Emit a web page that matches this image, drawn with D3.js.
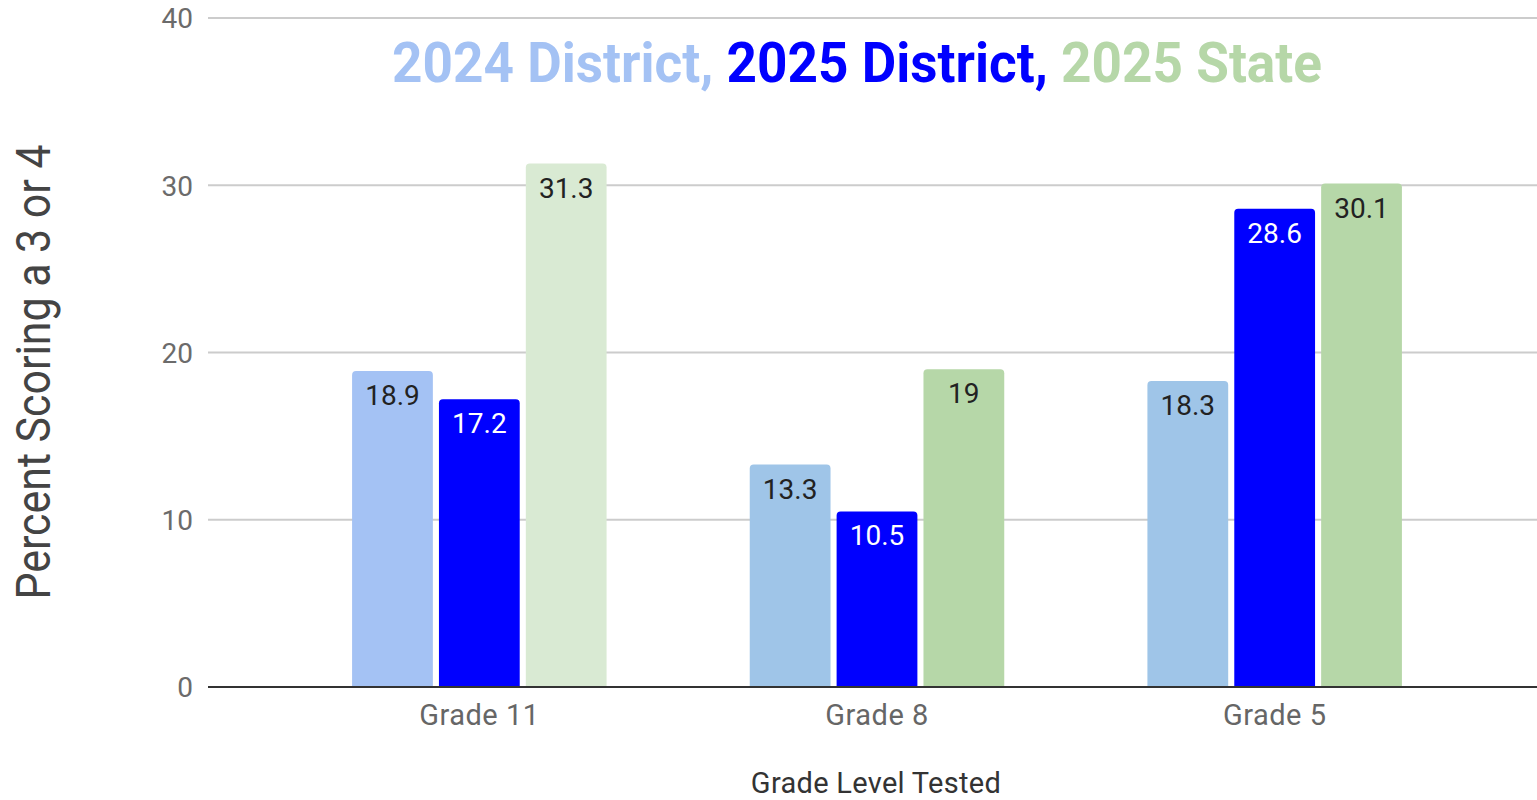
<!DOCTYPE html>
<html><head><meta charset="utf-8">
<script src="https://cdn.jsdelivr.net/npm/d3@7"></script>
<style>
html,body{margin:0;padding:0;background:#fff;}
svg{display:block;font-family:Roboto,"Noto Sans",sans-serif;}
</style></head>
<body><svg id="chart" width="1537" height="800"></svg>
<script>
const categories = ["Grade 11", "Grade 8", "Grade 5"];
const seriesNames = ["2024 District", "2025 District", "2025 State"];
const district2024 = [18.9, 13.3, 18.3];
const district2025 = [17.2, 10.5, 28.6];
const state2025 = [31.3, 19, 30.1];
const yTicks = [0, 10, 20, 30, 40];
const seriesColors = ["#a4c2f4", "#0000ff", "#b6d7a8"];
// per-category colour overrides seen in the picture
const barColors = [
  ["#a4c2f4", "#0000ff", "#d9ead3"],
  ["#9fc5e8", "#0000ff", "#b6d7a8"],
  ["#9fc5e8", "#0000ff", "#b6d7a8"]
];
const labelColors = ["#222", "#fff", "#222"];
const xTitle = "Grade Level Tested";
const yTitle = "Percent Scoring a 3 or 4";

(function () {
const series = [district2024, district2025, state2025];
const svg = d3.select("#chart");
const mLeft = 208, mRight = 1537, mTop = 18, mBottom = 687;

const y = d3.scaleLinear().domain([0, 40]).range([mBottom, mTop]);
const x0 = d3.scaleBand().domain(categories).range([280.5, 1473.5]).paddingInner(0.36).paddingOuter(0.18);
const x1 = d3.scaleBand().domain(d3.range(3)).range([0, x0.bandwidth()]).paddingInner(0.07).paddingOuter(0);

// gridlines
svg.append("g").selectAll("line").data(yTicks.filter(t => t > 0)).join("line")
  .attr("x1", mLeft).attr("x2", mRight)
  .attr("y1", d => y(d)).attr("y2", d => y(d))
  .attr("stroke", "#cccccc").attr("stroke-width", 2);

// y tick labels
const yAxis = d3.axisLeft(y).tickValues(yTicks).tickSize(0).tickPadding(15);
const ya = svg.append("g").attr("transform", `translate(${mLeft},0)`).call(yAxis);
ya.select(".domain").remove();
ya.selectAll("text").attr("font-size", 28).attr("fill", "#6b6b6b")
  .attr("font-family", "Roboto").attr("dy", "0.35em");

// bars
const rows = [];
categories.forEach((c, i) => series.forEach((s, j) => rows.push({c, i, j, v: s[i]})));
const r = 4;
function barPath(x, yTop, w, h) {
  const rr = Math.min(r, h);
  return `M${x},${yTop + h}V${yTop + rr}Q${x},${yTop} ${x + rr},${yTop}H${x + w - rr}Q${x + w},${yTop} ${x + w},${yTop + rr}V${yTop + h}Z`;
}
const g = svg.append("g");
g.selectAll("path").data(rows).join("path")
  .attr("d", d => barPath(x0(d.c) + x1(d.j), y(d.v), x1.bandwidth(), y(0) - y(d.v)))
  .attr("fill", d => barColors[d.i][d.j]);

g.selectAll("text").data(rows).join("text")
  .attr("x", d => x0(d.c) + x1(d.j) + x1.bandwidth() / 2)
  .attr("y", d => y(d.v) + 34)
  .attr("text-anchor", "middle")
  .attr("font-size", 28)
  .attr("fill", d => labelColors[d.j])
  .text(d => d.v);

// baseline
svg.append("line").attr("x1", mLeft).attr("x2", mRight).attr("y1", y(0)).attr("y2", y(0))
  .attr("stroke", "#333").attr("stroke-width", 2);

// x axis labels
const xAxis = d3.axisBottom(x0).tickSize(0).tickPadding(17);
const xa = svg.append("g").attr("transform", `translate(0,${mBottom})`).call(xAxis);
xa.select(".domain").remove();
xa.selectAll("text").attr("font-size", 29).attr("fill", "#666").attr("font-family", "Roboto")
  .attr("letter-spacing", "0.5px").attr("dy", "0.71em");

// x title
svg.append("text").attr("x", 876).attr("y", 793).attr("text-anchor", "middle")
  .attr("font-size", 29).attr("letter-spacing", "0.3px").attr("fill", "#333").text(xTitle);

// y title
svg.append("text").attr("transform", "translate(50,372) rotate(-90)")
  .attr("text-anchor", "middle").attr("font-size", 48).attr("fill", "#444")
  .attr("textLength", 455).attr("lengthAdjust", "spacingAndGlyphs")
  .text(yTitle);

// title
const t = svg.append("text").attr("x", 857).attr("y", 82).attr("text-anchor", "middle")
  .attr("font-size", 55).attr("font-weight", "bold")
  .attr("textLength", 930).attr("lengthAdjust", "spacingAndGlyphs");
seriesNames.forEach((n, i) => {
  t.append("tspan").attr("fill", seriesColors[i]).text(n + (i < seriesNames.length - 1 ? ", " : ""));
});
})();
</script></body></html>
